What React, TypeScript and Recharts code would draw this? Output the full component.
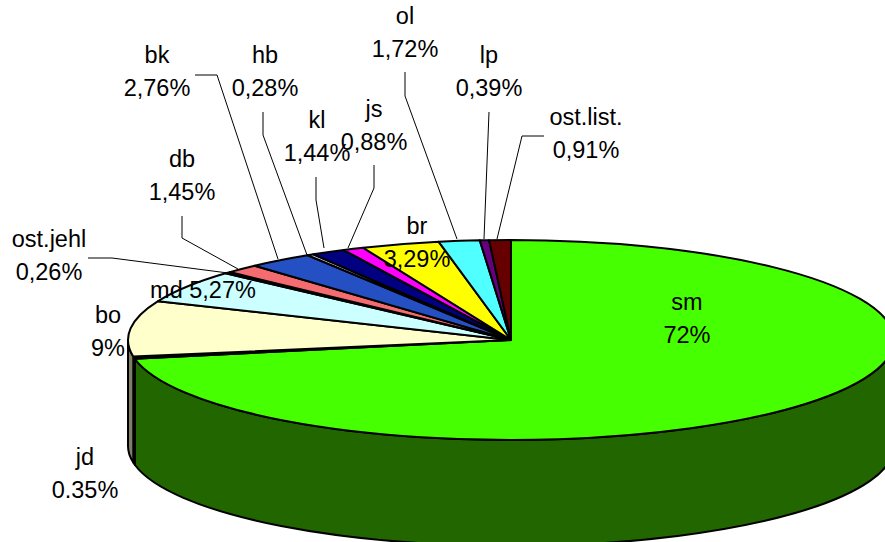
import { PieChart, Pie } from 'recharts'

const WIDTH = 885
const HEIGHT = 542
const CENTER_X = 511
const CENTER_Y = 340
const RADIUS_X = 383
const RADIUS_Y = 100
const DEPTH = 106

const species = ['sm', 'jd', 'bo', 'md', 'ost.jehl', 'db', 'bk', 'hb', 'kl', 'js', 'br', 'ol', 'lp', 'ost.list.']
const shares = [72, 0.35, 9, 5.27, 0.26, 1.45, 2.76, 0.28, 1.44, 0.88, 3.29, 1.72, 0.39, 0.91]
const shareLabels = ['72%', '0.35%', '9%', '5,27%', '0,26%', '1,45%', '2,76%', '0,28%', '1,44%', '0,88%', '3,29%', '1,72%', '0,39%', '0,91%']
const topColors = ['#46FF00', '#000000', '#FFFFCC', '#CCFFFF', '#660066', '#F56C70', '#2450C4', '#CCCCFF', '#000080', '#FF00FF', '#FFFF00', '#50FFFF', '#660080', '#660000']
const sideColors = ['#226600', '#000000', '#807F66', '#668080', '#330033', '#803638', '#122862', '#666680', '#000040', '#800080', '#808000', '#288080', '#330040', '#330000']

// label anchors: centre x, baseline of the first line
const labelX = [687, 85, 108, 203, 49, 182, 157, 265, 317, 374, 417, 405, 489, 586]
const labelY = [309.5, 464.5, 322.5, 298, 246.5, 166.5, 62.5, 62.5, 127.5, 116.5, 233.5, 23.5, 62.5, 124.5]
const LINE_HEIGHT = 33.5

// leader lines from the outlying labels to their slices
const leaders: (string | null)[] = [
  null,
  null,
  null,
  null,
  '88,258 112,258 228,273',
  '182,216 182,238 238,269',
  '195,75 217,75 278,259',
  '263,112 263,135 307,255',
  '316,177 316,200 324,248',
  '374,165 374,188 348,248',
  null,
  '405,72 405,96 457,239',
  '489,112 484,239',
  '544,136 522,136 497,239',
]

const tableData = species.map((name, i) => ({ name, value: shares[i] }))

const onEllipse = (angle: number) => {
  const rad = (angle * Math.PI) / 180
  return { x: CENTER_X + RADIUS_X * Math.cos(rad), y: CENTER_Y - RADIUS_Y * Math.sin(rad) }
}

// flattens the circular sector Recharts hands over into an ellipse and adds the rim below it
const TiltedSlice = (props: any) => {
  const { startAngle, endAngle, index } = props
  const a = onEllipse(startAngle)
  const b = onEllipse(endAngle)
  const large = Math.abs(startAngle - endAngle) > 180 ? 1 : 0
  const top = `M${CENTER_X},${CENTER_Y} L${a.x},${a.y} A${RADIUS_X},${RADIUS_Y} 0 ${large} 1 ${b.x},${b.y} Z`

  // the rim only shows on the front half of the ellipse
  const rimStart = Math.min(startAngle, 0)
  const rimEnd = Math.max(endAngle, -180)
  let rim = null
  if (rimStart > rimEnd) {
    const p = onEllipse(rimStart)
    const q = onEllipse(rimEnd)
    const rimLarge = rimStart - rimEnd > 180 ? 1 : 0
    rim = (
      <path
        d={`M${p.x},${p.y} A${RADIUS_X},${RADIUS_Y} 0 ${rimLarge} 1 ${q.x},${q.y} L${q.x},${q.y + DEPTH} A${RADIUS_X},${RADIUS_Y} 0 ${rimLarge} 0 ${p.x},${p.y + DEPTH} Z`}
        fill={sideColors[index]}
        stroke="#000"
        strokeWidth={2}
        strokeLinejoin="round"
      />
    )
  }
  return (
    <g>
      {rim}
      <path d={top} fill={topColors[index]} stroke="#000" strokeWidth={2} strokeLinejoin="round" />
    </g>
  )
}

const renderLabel = (props: any) => {
  const i = props.index
  const x = labelX[i]
  const y = labelY[i]
  const text = { x, textAnchor: 'middle' as const, fontFamily: '"Liberation Sans", Arial, sans-serif', fontSize: 23.5, fill: '#000' }
  return (
    <g>
      {leaders[i] && <polyline points={leaders[i] as string} fill="none" stroke="#000" strokeWidth={1} />}
      {species[i] === 'md' ? (
        <text {...text} y={y}>{`${species[i]} ${shareLabels[i]}`}</text>
      ) : (
        <>
          <text {...text} y={y}>{species[i]}</text>
          <text {...text} y={y + LINE_HEIGHT}>{shareLabels[i]}</text>
        </>
      )}
    </g>
  )
}

export default function App() {
  return (
    <div style={{ position: 'absolute', left: 0, top: 0, width: WIDTH, height: HEIGHT, overflow: 'hidden', background: '#fff' }}>
      <PieChart width={WIDTH} height={HEIGHT} margin={{ top: 0, right: 0, bottom: 0, left: 0 }}>
        <Pie
          data={tableData}
          dataKey="value"
          cx={CENTER_X}
          cy={CENTER_Y}
          innerRadius={0}
          outerRadius={RADIUS_X}
          startAngle={90}
          endAngle={-270}
          shape={TiltedSlice}
          label={renderLabel}
          labelLine={false}
          isAnimationActive={false}
        />
      </PieChart>
    </div>
  )
}
